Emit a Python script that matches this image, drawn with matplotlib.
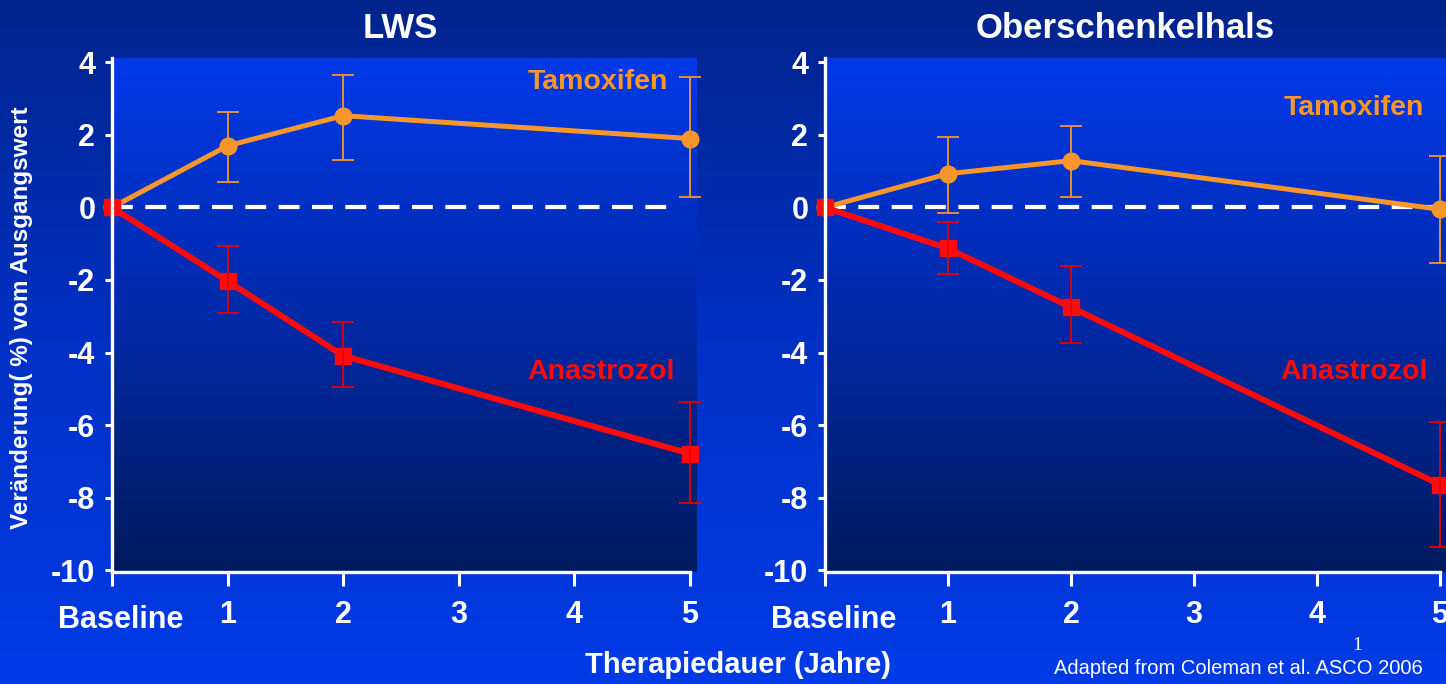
import numpy as np
import matplotlib
matplotlib.use('Agg')
import matplotlib.pyplot as plt
import matplotlib.transforms as mtransforms
from matplotlib.colors import LinearSegmentedColormap

plt.rcParams['font.family'] = ['Liberation Sans', 'DejaVu Sans']

# ── data ──────────────────────────────────────────────────
x_pos = [0, 1, 2, 5]
x_ticks = [0, 1, 2, 3, 4, 5]
tick_labels = ['Baseline', '1', '2', '3', '4', '5']
y_ticks = [4, 2, 0, -2, -4, -6, -8, -10]

lws_tam    = [0, 1.70, 2.53, 1.90]
lws_tam_lo = [0, 0.69, 1.32, 0.30]
lws_tam_hi = [0, 2.64, 3.65, 3.60]
lws_ana    = [0, -2.03, -4.09, -6.79]
lws_ana_lo = [0, -2.91, -4.95, -8.16]
lws_ana_hi = [0, -1.07, -3.16, -5.36]

fem_tam    = [0, 0.93, 1.29, -0.05]
fem_tam_lo = [0, -0.16, 0.30, -1.54]
fem_tam_hi = [0, 1.95, 2.25, 1.43]
fem_ana    = [0, -1.13, -2.75, -7.64]
fem_ana_lo = [0, -1.84, -3.74, -9.37]
fem_ana_hi = [0, -0.41, -1.62, -5.91]

ORANGE = '#f7962b'
RED    = '#ff0a0a'
DRED   = '#e60000'
WHITE  = 'white'

fig = plt.figure(figsize=(14.46, 6.84), dpi=100)

# figure background gradient
bg = fig.add_axes([0, 0, 1, 1], zorder=-10)
fig_cmap = LinearSegmentedColormap.from_list('figbg', ['#00248c', '#0030c4', '#003be6'])
bg.imshow(np.linspace(0, 1, 256).reshape(-1, 1), aspect='auto', cmap=fig_cmap,
          extent=[0, 1, 0, 1], origin='upper')
bg.axis('off')

ax_cmap = LinearSegmentedColormap.from_list('axbg', ['#0039e8', '#0029a8', '#001a5e'])

panels = [
    ([112/1446, 1-572/684, 585/1446, 514/684], 5.06, 4.85, 'LWS', 400,
     lws_tam, lws_tam_lo, lws_tam_hi, lws_ana, lws_ana_lo, lws_ana_hi,
     (4.2, 3.45), (4.23, -4.55)),
    ([825/1446, 1-572/684, 621/1446, 514/684], 5.05, 5.0, 'Oberschenkelhals', 1125,
     fem_tam, fem_tam_lo, fem_tam_hi, fem_ana, fem_ana_lo, fem_ana_hi,
     (4.3, 2.75), (4.3, -4.55)),
]

for (rect, xmax, dash_end, title, tx, tam, tam_lo, tam_hi, ana, ana_lo, ana_hi,
     tam_xy, ana_xy) in panels:
    ax = fig.add_axes(rect)
    ax.set_xlim(0, xmax)
    ax.set_ylim(-10.05, 4.12)
    ax.imshow(np.linspace(0, 1, 256).reshape(-1, 1), aspect='auto', cmap=ax_cmap,
              extent=[0, xmax, -10.05, 4.12], origin='upper', zorder=0)
    ax.set_facecolor('none')

    ax.plot([0, dash_end], [0, 0], color=WHITE, lw=3, dashes=(5, 3), zorder=1)

    tam = np.array(tam); ana = np.array(ana)
    ax.plot(x_pos, tam, color=ORANGE, lw=3.6, marker='o', ms=12, zorder=3, clip_on=False)
    ax.errorbar(x_pos[1:], tam[1:],
                yerr=[tam[1:] - np.array(tam_lo[1:]), np.array(tam_hi[1:]) - tam[1:]],
                fmt='none', ecolor=ORANGE, elinewidth=1.3, capsize=8, capthick=1.3,
                zorder=3, clip_on=False)
    ax.plot(x_pos, ana, color=RED, lw=4.3, marker='s', ms=11.5, zorder=4, clip_on=False)
    ax.errorbar(x_pos[1:], ana[1:],
                yerr=[ana[1:] - np.array(ana_lo[1:]), np.array(ana_hi[1:]) - ana[1:]],
                fmt='none', ecolor=DRED, elinewidth=1.3, capsize=8, capthick=1.3,
                zorder=4, clip_on=False)

    ax.text(tam_xy[0], tam_xy[1], 'Tamoxifen', color=ORANGE, fontsize=20.5,
            fontweight='bold', ha='center', va='center', zorder=5)
    ax.text(ana_xy[0], ana_xy[1], 'Anastrozol', color=RED, fontsize=20.5,
            fontweight='bold', ha='center', va='center', zorder=5)

    for side in ['top', 'right']:
        ax.spines[side].set_visible(False)
    for side in ['left', 'bottom']:
        ax.spines[side].set_color(WHITE)
        ax.spines[side].set_linewidth(2.4)
        ax.spines[side].set_zorder(6)
    ax.spines['bottom'].set_bounds(0, 5)

    ax.set_yticks(y_ticks)
    ax.set_yticklabels([str(v) for v in y_ticks])
    ax.set_xticks(x_ticks)
    ax.set_xticklabels(tick_labels)
    ax.tick_params(axis='y', colors=WHITE, length=5, width=2.2, pad=7,
                   labelsize=22)
    ax.tick_params(axis='x', colors=WHITE, length=10, width=2.2, pad=10,
                   labelsize=22)
    for lab in ax.get_yticklabels() + ax.get_xticklabels():
        lab.set_fontweight('bold')
    base = ax.get_xticklabels()[0]
    base.set_transform(base.get_transform() +
                       mtransforms.ScaledTranslation(6/72, -4/72, fig.dpi_scale_trans))

    fig.text(tx/1446, 1-28/684, title, color=WHITE, fontsize=25,
             fontweight='bold', ha='center', va='center')

fig.text(22/1446, 1-318/684, 'Veränderung( %) vom Ausgangswert', color=WHITE,
         fontsize=17.5, fontweight='bold', rotation=90, ha='center', va='center')
fig.text(738/1446, 1-665/684, 'Therapiedauer (Jahre)', color=WHITE,
         fontsize=21, fontweight='bold', ha='center', va='center')
fig.text(1238/1446, 1-668/684, 'Adapted from Coleman et al. ASCO 2006', color=WHITE,
         fontsize=14.5, ha='center', va='center')
fig.text(1357/1446, 1-645/684, '1', color=WHITE, fontsize=14,
         family='Liberation Serif', ha='center', va='center')

fig.savefig('out.png', dpi=100)
